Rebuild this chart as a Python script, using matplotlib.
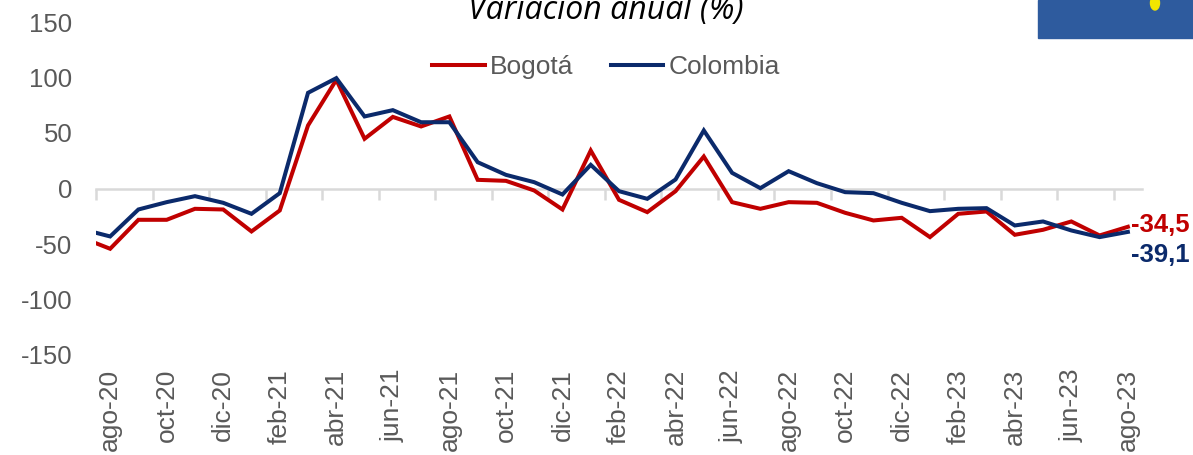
import matplotlib
matplotlib.use("Agg")
import matplotlib.pyplot as plt
import numpy as np
from matplotlib.patches import Rectangle, Ellipse

plt.rcParams['font.family'] = ['Liberation Sans', 'DejaVu Sans']
plt.rcParams['axes.unicode_minus'] = False

# meses: jul-20 (fuera del eje, solo recortado) hasta ago-23
meses = ['jul-20', 'ago-20', 'sep-20', 'oct-20', 'nov-20', 'dic-20',
         'ene-21', 'feb-21', 'mar-21', 'abr-21', 'may-21', 'jun-21',
         'jul-21', 'ago-21', 'sep-21', 'oct-21', 'nov-21', 'dic-21',
         'ene-22', 'feb-22', 'mar-22', 'abr-22', 'may-22', 'jun-22',
         'jul-22', 'ago-22', 'sep-22', 'oct-22', 'nov-22', 'dic-22',
         'ene-23', 'feb-23', 'mar-23', 'abr-23', 'may-23', 'jun-23',
         'jul-23', 'ago-23']
bogota = [-44.3, -54.3, -28.2, -28.2, -18.3, -18.9,
          -38.7, -19.8, 56.8, 97.9, 44.8, 64.5,
          55.9, 64.9, 7.8, 6.9, -1.8, -18.9,
          34.2, -10.2, -21.3, -2.4, 28.8, -12.3,
          -18.3, -12.3, -12.9, -21.9, -28.8, -26.4,
          -43.8, -22.8, -20.7, -41.7, -37.2, -29.7,
          -42.3, -34.5]
colombia = [-36.6, -43.2, -18.9, -12.3, -6.9, -12.9,
            -22.8, -4.2, 86.2, 99.4, 64.9, 70.6,
            59.7, 59.7, 23.7, 12.3, 5.7, -5.4,
            21.3, -2.4, -9.3, 8.1, 52.3, 14.1,
            0.3, 15.6, 4.8, -3.3, -4.2, -12.9,
            -20.4, -18.3, -17.7, -33.3, -29.7, -37.8,
            -43.8, -39.1]

rojo = '#C00000'
azul = '#0B2A6B'
gris = '#595959'

x = np.arange(len(meses)) - 1  # ago-20 -> 0

fig = plt.figure(figsize=(11.93, 4.55), dpi=100)
ax = fig.add_axes([96 / 1193, 1 - 355 / 455, 1046 / 1193, 333 / 455])

ax.plot(x, bogota, color=rojo, lw=2.9, label='Bogotá', solid_joinstyle='miter', zorder=3)
ax.plot(x, colombia, color=azul, lw=2.9, label='Colombia', solid_joinstyle='miter', zorder=4)

ax.set_xlim(-0.5, 36.5)
ax.set_ylim(-150, 150)
ax.set_yticks([-150, -100, -50, 0, 50, 100, 150])
ax.tick_params(axis='y', length=0, pad=17, labelsize=18.5, labelcolor=gris)

for s in ['left', 'right', 'top']:
    ax.spines[s].set_visible(False)
ax.spines['bottom'].set_position(('data', 0))
ax.spines['bottom'].set_color('#D9D9D9')
ax.spines['bottom'].set_linewidth(1.8)
ax.set_xticks(np.arange(-0.5, 37, 2))
ax.tick_params(axis='x', length=8, width=1.8, color='#D9D9D9', labelbottom=False)

# etiquetas de meses en la parte inferior
sec = ax.secondary_xaxis(location=0)
sec.spines['bottom'].set_visible(False)
pos = np.arange(0, 37, 2)
sec.set_xticks(pos)
sec.set_xticklabels([meses[i + 1] for i in pos], rotation=90, fontsize=19, color=gris)
sec.tick_params(axis='x', length=0, pad=10)

# valores finales
ax.text(36.12, bogota[-1] + 2, '-34,5', color=rojo, fontsize=18.5, fontweight='bold',
        ha='left', va='center', clip_on=False)
ax.text(36.12, colombia[-1] - 21, '-39,1', color=azul, fontsize=18.5, fontweight='bold',
        ha='left', va='center', clip_on=False)

ax.legend(loc='center', bbox_to_anchor=(606 / 1193, 1 - 67 / 455), bbox_transform=fig.transFigure,
          ncol=2, frameon=False, fontsize=19, handlelength=2.0, handletextpad=0.2,
          columnspacing=1.4, labelcolor=gris)

fig.text(606 / 1193, 1 - 10 / 455, 'Variación anual (%)', family='Open Sans', style='italic',
         fontsize=23, ha='center', va='center', color='black')

# recorte del logo
fig.patches.append(Rectangle((1038 / 1193, 1 - 38 / 455), 155 / 1193, 38 / 455,
                             transform=fig.transFigure, color='#2E5B9E', zorder=0))
fig.patches.append(Ellipse((1155 / 1193, 1 - 3 / 455), 9 / 1193, 14 / 455, angle=0,
                           transform=fig.transFigure, color='#F2E600', zorder=1))

fig.savefig('out.png', dpi=100)
